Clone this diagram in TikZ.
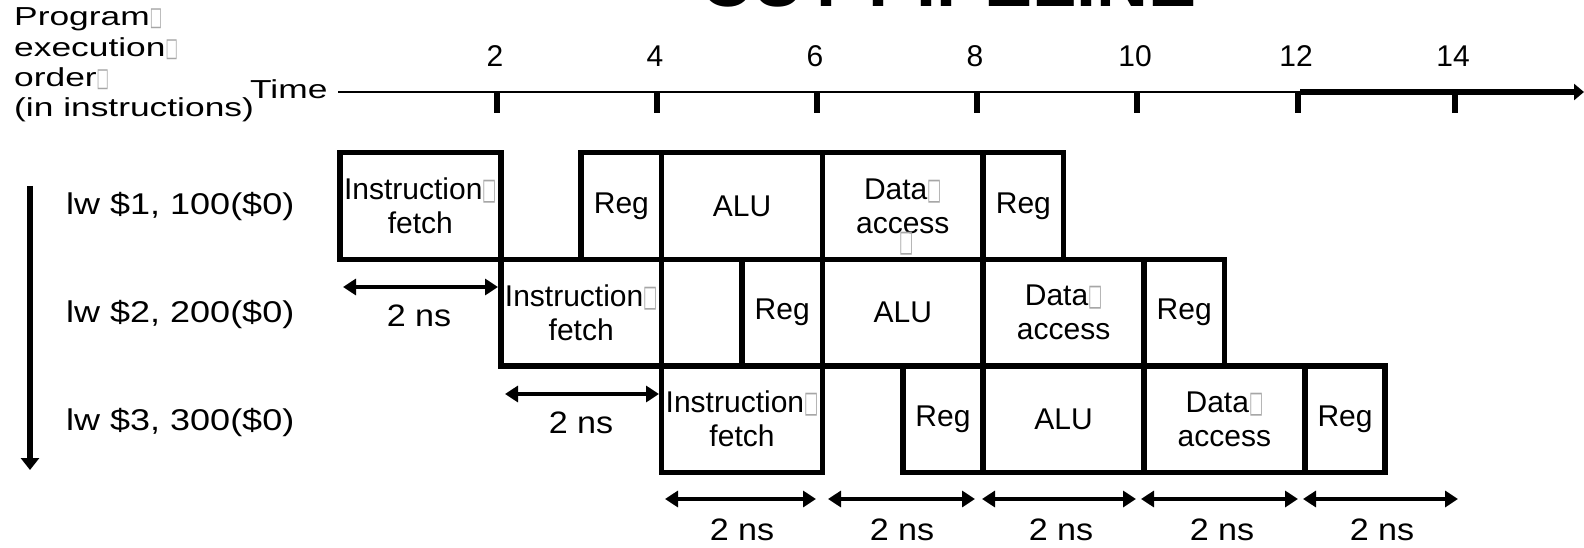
\documentclass[tikz,border=0pt]{standalone}
\usepackage{fontspec}
\setmainfont{Liberation Sans}
\newfontfamily\wideA[FakeStretch=1.36]{Liberation Sans}
\newfontfamily\wideB[FakeStretch=1.2]{Liberation Sans}
\newfontfamily\wideC[FakeStretch=1.1]{Liberation Sans}
\newfontfamily\symf{DejaVu Sans}
\usetikzlibrary{arrows.meta}
\newcommand\tofu{{\symf\color{black!35}\scalebox{0.5}[1]{□}}}
\newcommand\stg[5]{\node[stagebox, minimum width={(#4-#3)*80.4pt}] (#1) at ({340+40.2*(#3+#4)}, #2) {#5};}
\tikzset{
  stagebox/.style={draw, line width=5.5pt, minimum height=106.5pt, inner sep=0pt, align=center,
    font=\fontsize{30}{34}\selectfont},
  sidelbl/.style={anchor=west, inner sep=0pt, font=\wideA\fontsize{26}{30}\selectfont},
  instlbl/.style={anchor=west, inner sep=0pt, font=\wideB\fontsize{30}{34}\selectfont},
  nslbl/.style={inner sep=0pt, font=\wideC\fontsize{31}{34}\selectfont},
  numlbl/.style={inner sep=0pt, font=\fontsize{30}{34}\selectfont},
  nsarrow/.style={line width=4.5pt, {Triangle[length=13pt,width=16pt]}-{Triangle[length=13pt,width=16pt]}},
  tickline/.style={line width=5.5pt},
}
\begin{document}
\begin{tikzpicture}[x=1pt, y=-1pt]
\useasboundingbox (0,0) rectangle (1584,548);
% title (cut off at the top)
\node[anchor=base west, inner sep=0pt, font=\bfseries\fontsize{72}{72}\selectfont] (title) at (700,7) {CUT PIPELINE};
% left labels
\node[sidelbl] (l1) at (14,19) {Program\tofu};
\node[sidelbl] (l2) at (14,49) {execution\tofu};
\node[sidelbl] (l3) at (14,79) {order\tofu};
\node[sidelbl] (l4) at (14,110) {(in instructions)};
\node[sidelbl] (time) at (250,89) {Time};
% order arrow
\coordinate (ordtop) at (30,186);
\coordinate (ordbot) at (30,470);
\draw[line width=6pt, -{Triangle[length=12pt,width=18pt]}] (ordtop) -- (ordbot);
% time axis
\coordinate (ax0) at (338,92);
\coordinate (axm) at (1300,92);
\coordinate (axe) at (1584,92);
\draw[line width=2.5pt] (ax0) -- (axm);
\draw[line width=6pt, -{Triangle[length=10pt,width=16pt]}] (axm) -- (axe);
\foreach \n/\x in {2/497,4/657,6/817,8/977,10/1137,12/1298,14/1455}{
  \coordinate (tk\n) at (\x,92);
  \draw[tickline] (tk\n) -- ++(0,21);
  \node[numlbl] (num\n) at (\x-2,56) {\n};
}
% instruction labels
\node[instlbl] (i1) at (66,207) {lw \$1, 100(\$0)};
\node[instlbl] (i2) at (66,315) {lw \$2, 200(\$0)};
\node[instlbl] (i3) at (66,422) {lw \$3, 300(\$0)};
% row 1
\stg{a1}{206}{0}{2}{Instruction\tofu\\fetch}
\stg{a2}{206}{3}{4}{Reg}
\stg{a3}{206}{4}{6}{ALU}
\stg{a4}{206}{6}{8}{Data\tofu\\access\smash{\llap{\raisebox{-18pt}{\tofu}\hspace{36pt}}}}
\stg{a5}{206}{8}{9}{Reg}
% row 2
\stg{b1}{312.5}{2}{4}{Instruction\tofu\\fetch}
\stg{b2}{312.5}{5}{6}{Reg}
\stg{b3}{312.5}{6}{8}{ALU}
\stg{b4}{312.5}{8}{10}{Data\tofu\\access}
\stg{b5}{312.5}{10}{11}{Reg}
% row 3
\stg{c1}{419}{4}{6}{Instruction\tofu\\fetch}
\stg{c2}{419}{7}{8}{Reg}
\stg{c3}{419}{8}{10}{ALU}
\stg{c4}{419}{10}{12}{Data\tofu\\access}
\stg{c5}{419}{12}{13}{Reg}
% 2 ns arrows
\coordinate (r1a) at (343,287); \coordinate (r1b) at (498,287);
\draw[nsarrow] (r1a) -- (r1b);
\node[nslbl] (n1) at (419,316) {2 ns};
\coordinate (r2a) at (505,394); \coordinate (r2b) at (659,394);
\draw[nsarrow] (r2a) -- (r2b);
\node[nslbl] (n2) at (581,423) {2 ns};
\foreach \k/\xa/\xb/\xc in {1/665/816/742,2/828/975/902,3/982/1136/1061,4/1141/1298/1222,5/1303/1458/1382}{
  \coordinate (ba\k) at (\xa,499); \coordinate (bb\k) at (\xb,499);
  \draw[nsarrow] (ba\k) -- (bb\k);
  \node[nslbl] (bn\k) at (\xc,530) {2 ns};
}
\end{tikzpicture}
\end{document}
